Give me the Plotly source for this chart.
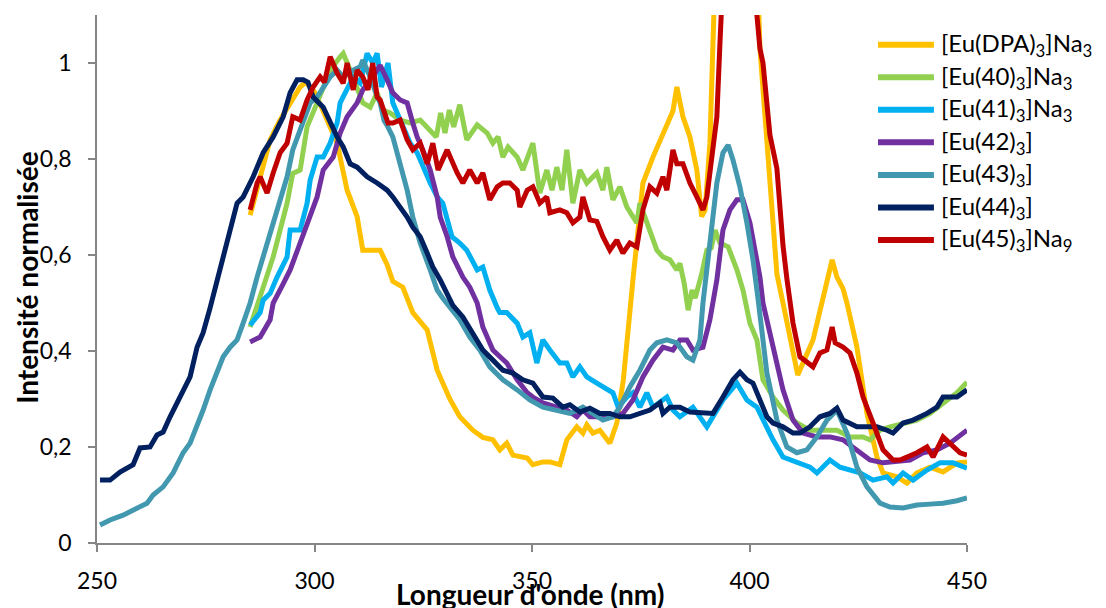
import plotly.graph_objects as go

# ---------------- data ----------------
series_names = ["[Eu(DPA)<sub>3</sub>]Na<sub>3</sub>", "[Eu(40)<sub>3</sub>]Na<sub>3</sub>",
                "[Eu(41)<sub>3</sub>]Na<sub>3</sub>", "[Eu(42)<sub>3</sub>]",
                "[Eu(43)<sub>3</sub>]", "[Eu(44)<sub>3</sub>]", "[Eu(45)<sub>3</sub>]Na<sub>9</sub>"]
series_colors = ["#FFC000", "#92D050", "#00B0F0", "#7030A0", "#4198AF", "#002060", "#C00000"]

wl_dpa = [285.2, 287.5, 289.8, 292.0, 294.4, 296.7, 298.0, 300.0, 302.0, 305.2, 307.5, 309.8, 311.1, 313.4,
          315.1, 316.7, 318.0, 320.3, 322.6, 325.9, 328.2, 331.1, 333.4, 336.4, 338.7, 341.0, 342.6, 344.2,
          345.6, 348.9, 350.2, 352.5, 354.1, 356.4, 358.0, 360.3, 361.7, 362.6, 364.0, 365.6, 367.9, 369.5,
          371.0, 373.2, 375.5, 377.8, 380.1, 382.4, 383.3, 384.7, 386.3, 387.9, 389.0, 389.8, 390.9, 391.8,
          395.5, 401.8, 402.4, 404.0, 405.4, 406.3, 407.7, 408.6, 410.0, 411.1, 412.3, 414.6, 416.9, 418.0,
          419.0, 420.1, 421.5, 422.4, 424.7, 427.0, 429.3, 430.7, 433.9, 436.2, 438.5, 441.5, 444.5, 447.7, 450.0]
int_dpa = [0.683, 0.76, 0.84, 0.88, 0.917, 0.95, 0.96, 0.94, 0.90, 0.833, 0.735, 0.68, 0.61, 0.61,
           0.61, 0.58, 0.545, 0.533, 0.48, 0.444, 0.36, 0.30, 0.263, 0.235, 0.22, 0.215, 0.194, 0.208,
           0.183, 0.177, 0.163, 0.169, 0.169, 0.163, 0.215, 0.242, 0.229, 0.246, 0.229, 0.235, 0.208, 0.25,
           0.34, 0.548, 0.75, 0.804, 0.854, 0.90, 0.95, 0.888, 0.846, 0.777, 0.68, 0.694, 0.833, 1.10,
           1.60, 1.20, 1.03, 0.833, 0.694, 0.56, 0.50, 0.458, 0.396, 0.35, 0.375, 0.423, 0.51, 0.55,
           0.59, 0.554, 0.53, 0.50, 0.408, 0.27, 0.179, 0.146, 0.138, 0.125, 0.146, 0.158, 0.148, 0.167, 0.169]

wl_40 = [285.2, 287.5, 290.5, 293.7, 295.0, 296.7, 298.3, 300.6, 302.0, 303.6, 305.9, 306.6, 308.2, 309.8,
         311.1, 312.8, 314.4, 315.7, 317.4, 319.7, 322.0, 324.3, 326.6, 328.0, 329.0, 330.0, 331.0, 332.0,
         333.4, 335.0, 337.4, 339.7, 341.0, 342.2, 343.3, 344.5, 346.6, 347.9, 350.2, 351.8, 353.4, 354.6,
         355.7, 356.9, 358.0, 359.4, 361.0, 362.6, 364.9, 366.3, 367.2, 368.6, 370.2, 371.8, 373.2, 374.1,
         374.8, 376.4, 378.7, 380.1, 381.7, 383.3, 384.0, 385.0, 385.9, 386.8, 387.5, 389.0, 390.2, 391.2,
         392.1, 393.2, 395.1, 397.1, 397.8, 398.5, 400.1, 401.7, 403.1, 405.4, 407.7, 410.9, 413.9, 416.9,
         420.1, 423.1, 426.1, 427.7, 430.0, 432.3, 435.3, 438.5, 441.5, 444.5, 447.7, 450.0]
int_40 = [0.45, 0.51, 0.596, 0.708, 0.77, 0.777, 0.867, 0.917, 0.95, 0.985, 1.013, 1.02, 0.985, 0.95,
          0.917, 0.908, 0.938, 0.902, 0.896, 0.881, 0.875, 0.881, 0.86, 0.846, 0.896, 0.854, 0.902, 0.867,
          0.913, 0.84, 0.871, 0.854, 0.833, 0.846, 0.804, 0.825, 0.804, 0.777, 0.833, 0.729, 0.777, 0.735,
          0.783, 0.735, 0.819, 0.708, 0.777, 0.75, 0.771, 0.735, 0.783, 0.715, 0.742, 0.70, 0.68, 0.667,
          0.708, 0.667, 0.61, 0.596, 0.59, 0.569, 0.583, 0.54, 0.485, 0.527, 0.51, 0.56, 0.61, 0.615,
          0.652, 0.625, 0.617, 0.569, 0.548, 0.527, 0.458, 0.423, 0.34, 0.304, 0.277, 0.25, 0.235, 0.235,
          0.235, 0.221, 0.221, 0.215, 0.235, 0.242, 0.25, 0.256, 0.27, 0.29, 0.313, 0.335]

wl_41 = [285.2, 287.5, 288.2, 289.8, 291.4, 293.7, 294.4, 296.7, 298.3, 299.0, 300.6, 302.0, 303.6, 305.2,
         305.9, 307.5, 308.9, 310.5, 312.1, 313.4, 314.4, 315.4, 316.9, 318.0, 319.7, 322.0, 323.6, 324.9,
         326.6, 328.2, 329.5, 331.6, 333.4, 335.0, 337.4, 338.7, 340.3, 342.0, 342.6, 344.2, 346.6, 347.9,
         349.5, 351.1, 352.5, 354.1, 356.4, 358.0, 359.4, 361.0, 362.6, 364.9, 367.2, 368.6, 369.8, 371.8,
         373.2, 374.8, 376.4, 377.8, 381.0, 382.4, 384.0, 387.0, 390.2, 391.6, 393.9, 397.1, 399.4, 401.7,
         403.1, 405.4, 407.7, 410.9, 413.9, 415.5, 418.5, 420.8, 423.1, 425.4, 428.4, 431.6, 433.0, 435.3,
         437.6, 440.8, 443.8, 446.8, 450.0]
int_41 = [0.454, 0.48, 0.506, 0.52, 0.554, 0.596, 0.652, 0.652, 0.708, 0.756, 0.804, 0.804, 0.833, 0.875,
          0.917, 0.944, 0.971, 0.958, 1.02, 1.0, 1.02, 0.95, 1.0, 0.917, 0.881, 0.833, 0.813, 0.783,
          0.75, 0.721, 0.708, 0.638, 0.625, 0.61, 0.569, 0.575, 0.527, 0.49, 0.48, 0.48, 0.458, 0.429,
          0.438, 0.375, 0.423, 0.402, 0.375, 0.375, 0.346, 0.367, 0.346, 0.333, 0.319, 0.313, 0.283, 0.304,
          0.313, 0.283, 0.313, 0.283, 0.304, 0.277, 0.263, 0.283, 0.242, 0.263, 0.298, 0.333, 0.298, 0.283,
          0.256, 0.215, 0.179, 0.167, 0.158, 0.146, 0.173, 0.158, 0.152, 0.146, 0.131, 0.138, 0.125, 0.146,
          0.131, 0.152, 0.167, 0.167, 0.156]

wl_42 = [285.2, 287.5, 289.8, 290.5, 292.8, 294.4, 296.7, 299.0, 300.6, 302.0, 304.3, 305.9, 307.5, 309.8,
         311.1, 313.4, 315.1, 316.7, 318.0, 319.7, 321.3, 322.6, 323.6, 324.9, 326.6, 328.2, 328.9, 330.5,
         331.8, 334.1, 335.7, 337.4, 338.7, 341.0, 344.2, 346.6, 348.9, 350.2, 352.5, 355.7, 358.0, 360.3,
         361.7, 363.3, 365.6, 368.6, 370.9, 373.2, 375.5, 377.8, 380.1, 382.4, 384.0, 385.6, 387.0, 389.3,
         390.9, 391.6, 392.5, 393.9, 395.5, 397.1, 398.5, 400.1, 401.7, 402.4, 403.1, 405.4, 407.7, 410.0,
         412.3, 415.5, 418.5, 421.5, 424.7, 427.7, 430.7, 433.9, 436.9, 439.9, 443.1, 446.1, 449.1, 450.0]
int_42 = [0.419, 0.429, 0.465, 0.50, 0.54, 0.569, 0.625, 0.679, 0.721, 0.777, 0.804, 0.854, 0.888, 0.917,
          0.944, 0.971, 0.995, 0.965, 0.938, 0.923, 0.917, 0.875, 0.846, 0.819, 0.777, 0.721, 0.679, 0.638,
          0.596, 0.554, 0.533, 0.50, 0.45, 0.402, 0.375, 0.34, 0.313, 0.304, 0.292, 0.283, 0.277, 0.263,
          0.277, 0.263, 0.263, 0.263, 0.27, 0.298, 0.346, 0.381, 0.408, 0.402, 0.423, 0.423, 0.402, 0.408,
          0.465, 0.50, 0.548, 0.652, 0.694, 0.715, 0.715, 0.667, 0.583, 0.554, 0.50, 0.408, 0.319, 0.256,
          0.229, 0.221, 0.221, 0.215, 0.194, 0.173, 0.167, 0.169, 0.173, 0.188, 0.194, 0.208, 0.229, 0.235]

wl_43 = [250.7, 253.0, 256.0, 259.2, 261.5, 262.9, 265.2, 267.5, 269.8, 271.4, 273.0, 274.4, 276.0, 277.6,
         279.0, 280.6, 282.2, 283.6, 285.2, 286.8, 289.1, 291.4, 293.7, 295.0, 297.4, 299.0, 300.6, 302.0,
         303.6, 305.2, 306.6, 308.9, 310.5, 311.1, 312.8, 314.4, 315.1, 316.0, 316.7, 318.0, 319.7, 321.3,
         322.6, 324.3, 326.6, 328.2, 329.5, 331.1, 333.4, 335.7, 338.0, 340.3, 343.3, 346.6, 349.5, 352.5,
         355.7, 358.7, 361.7, 364.0, 366.3, 368.6, 370.2, 372.5, 374.8, 377.1, 378.7, 381.0, 383.3, 385.6,
         387.0, 388.6, 389.3, 390.9, 392.5, 393.9, 395.1, 396.2, 397.8, 399.4, 400.8, 402.0, 404.0, 406.3,
         408.6, 410.9, 413.2, 415.5, 417.8, 420.1, 422.4, 424.7, 427.0, 430.0, 432.3, 435.3, 438.5, 441.5,
         444.5, 447.7, 450.0]
int_43 = [0.0375, 0.048, 0.058, 0.073, 0.083, 0.10, 0.117, 0.146, 0.188, 0.208, 0.242, 0.277, 0.319, 0.354,
          0.388, 0.408, 0.423, 0.458, 0.50, 0.554, 0.625, 0.694, 0.763, 0.819, 0.881, 0.917, 0.929, 0.95,
          0.971, 0.985, 0.971, 0.985, 0.992, 1.006, 0.971, 0.930, 0.917, 0.88, 0.870, 0.846, 0.79, 0.735,
          0.679, 0.625, 0.569, 0.527, 0.51, 0.49, 0.465, 0.429, 0.402, 0.367, 0.34, 0.319, 0.298, 0.283,
          0.277, 0.27, 0.283, 0.27, 0.256, 0.263, 0.283, 0.325, 0.36, 0.402, 0.417, 0.423, 0.417, 0.388,
          0.381, 0.423, 0.50, 0.625, 0.75, 0.813, 0.829, 0.798, 0.742, 0.667, 0.59, 0.506, 0.354, 0.256,
          0.20, 0.188, 0.194, 0.221, 0.256, 0.277, 0.229, 0.158, 0.117, 0.083, 0.075, 0.073, 0.079, 0.081,
          0.083, 0.088, 0.094]

wl_44 = [250.7, 253.0, 255.3, 258.3, 259.9, 262.2, 263.8, 265.2, 266.8, 268.4, 269.8, 271.4, 273.0, 274.4,
         276.0, 278.3, 279.9, 282.2, 283.6, 285.9, 288.2, 290.5, 292.8, 294.4, 296.0, 297.4, 298.5, 299.7,
         302.0, 303.6, 305.2, 306.6, 308.2, 309.8, 312.1, 314.4, 315.7, 316.7, 318.0, 319.7, 321.3, 322.6,
         324.3, 325.9, 327.2, 328.9, 331.8, 334.1, 336.4, 338.7, 341.0, 343.3, 345.6, 347.9, 350.2, 352.5,
         354.8, 357.1, 358.7, 361.0, 363.3, 365.6, 367.9, 370.2, 372.5, 374.8, 377.1, 379.4, 380.1, 381.7,
         384.0, 386.3, 389.3, 391.6, 393.9, 396.2, 397.8, 399.4, 400.8, 402.4, 404.0, 405.4, 407.7, 410.0,
         411.6, 413.9, 416.2, 418.5, 420.1, 421.5, 423.1, 424.7, 427.0, 429.3, 431.6, 433.0, 435.3, 437.6,
         440.8, 443.1, 444.5, 447.7, 450.0]
int_44 = [0.131, 0.131, 0.148, 0.163, 0.198, 0.20, 0.225, 0.231, 0.263, 0.292, 0.319, 0.346, 0.408, 0.438,
          0.49, 0.569, 0.631, 0.708, 0.721, 0.763, 0.813, 0.846, 0.888, 0.938, 0.965, 0.965, 0.96, 0.929,
          0.908, 0.875, 0.846, 0.825, 0.79, 0.783, 0.763, 0.75, 0.742, 0.735, 0.721, 0.70, 0.679, 0.658,
          0.638, 0.604, 0.575, 0.548, 0.495, 0.471, 0.438, 0.402, 0.381, 0.36, 0.354, 0.34, 0.333, 0.304,
          0.302, 0.283, 0.288, 0.273, 0.281, 0.27, 0.27, 0.263, 0.263, 0.27, 0.277, 0.292, 0.27, 0.283,
          0.283, 0.273, 0.27, 0.27, 0.304, 0.34, 0.356, 0.34, 0.333, 0.298, 0.263, 0.25, 0.242, 0.229,
          0.229, 0.242, 0.263, 0.27, 0.281, 0.256, 0.25, 0.242, 0.242, 0.242, 0.235, 0.229, 0.25, 0.256,
          0.27, 0.283, 0.304, 0.304, 0.319]

wl_45 = [285.2, 286.8, 287.5, 289.1, 290.5, 292.1, 293.7, 295.0, 296.7, 298.3, 299.7, 301.3, 302.3, 303.6,
         305.2, 306.6, 307.5, 308.9, 309.8, 311.1, 312.3, 313.4, 314.4, 315.1, 316.9, 318.0, 319.7, 321.3,
         322.6, 324.3, 325.9, 327.2, 328.4, 330.5, 332.8, 334.1, 335.7, 337.4, 338.7, 340.3, 342.0, 343.3,
         344.9, 346.6, 347.2, 348.9, 350.2, 351.8, 353.4, 354.1, 356.4, 358.0, 359.4, 361.0, 361.7, 363.3,
         364.9, 366.3, 367.9, 369.5, 370.9, 372.5, 374.1, 375.5, 377.1, 378.7, 380.1, 381.0, 382.4, 383.3,
         384.7, 386.3, 387.9, 389.3, 390.2, 391.6, 392.5, 393.2, 394.5, 397.5, 400.5, 401.7, 402.4, 403.1,
         404.7, 406.3, 407.7, 408.6, 410.0, 411.6, 413.2, 414.6, 416.2, 417.8, 419.0, 419.7, 421.5, 423.1,
         424.7, 426.1, 428.4, 430.7, 433.0, 434.6, 436.2, 438.5, 440.8, 442.2, 444.5, 446.8, 448.4, 450.0]
int_45 = [0.694, 0.75, 0.763, 0.729, 0.771, 0.813, 0.833, 0.888, 0.881, 0.923, 0.95, 0.971, 0.96, 1.013,
          0.979, 0.958, 1.0, 0.944, 0.985, 0.971, 0.944, 1.0, 0.929, 0.923, 0.875, 0.875, 0.881, 0.84,
          0.819, 0.833, 0.79, 0.833, 0.777, 0.819, 0.771, 0.75, 0.777, 0.75, 0.771, 0.715, 0.742, 0.75,
          0.75, 0.735, 0.70, 0.735, 0.742, 0.708, 0.721, 0.688, 0.694, 0.688, 0.667, 0.679, 0.721, 0.673,
          0.67, 0.638, 0.61, 0.631, 0.604, 0.625, 0.617, 0.694, 0.742, 0.729, 0.763, 0.735, 0.819, 0.79,
          0.79, 0.75, 0.721, 0.694, 0.721, 0.813, 0.888, 1.04, 1.30, 1.50, 1.30, 1.10, 1.03, 1.00,
          0.85, 0.78, 0.62, 0.55, 0.458, 0.388, 0.375, 0.367, 0.396, 0.402, 0.45, 0.417, 0.408, 0.396,
          0.354, 0.304, 0.25, 0.194, 0.173, 0.173, 0.179, 0.188, 0.20, 0.179, 0.221, 0.20, 0.188, 0.183]

x_ticks = [250, 300, 350, 400, 450]
y_ticks = [0, 0.2, 0.4, 0.6, 0.8, 1]
x_title = "Longueur d'onde (nm)"
y_title = "Intensité normalisée"

all_x = [wl_dpa, wl_40, wl_41, wl_42, wl_43, wl_44, wl_45]
all_y = [int_dpa, int_40, int_41, int_42, int_43, int_44, int_45]

# ---------------- figure ----------------
FONT = "Lato, 'Open Sans', 'Liberation Sans', sans-serif"
AXIS_COLOR = "#868686"

fig = go.Figure()
for name, color, xs, ys in zip(series_names, series_colors, all_x, all_y):
    fig.add_trace(go.Scatter(x=xs, y=ys, mode="lines", name=name,
                             line=dict(color=color, width=5), showlegend=False))

# custom legend (Excel-like long line samples)
leg_x0, leg_x1, leg_text_x = 0.8977, 0.962, 0.968
leg_y_top, leg_step = 0.9436, 0.0616
for i, (name, color) in enumerate(zip(series_names, series_colors)):
    yy = leg_y_top - i * leg_step
    fig.add_shape(type="line", xref="paper", yref="paper", x0=leg_x0, x1=leg_x1, y0=yy, y1=yy,
                  line=dict(color=color, width=6))
    fig.add_annotation(xref="paper", yref="paper", x=leg_text_x, y=yy, text=name, showarrow=False,
                       xanchor="left", yanchor="middle", font=dict(family=FONT, size=24, color="#000000"))

# axis titles
fig.add_annotation(xref="paper", yref="paper", x=0.498, y=-0.097, text="<b>" + x_title + "</b>",
                   showarrow=False, xanchor="center", yanchor="middle",
                   font=dict(family=FONT, size=28, color="#000000"))
fig.add_annotation(xref="paper", yref="paper", x=-0.0805, y=0.504, text="<b>" + y_title + "</b>",
                   showarrow=False, xanchor="center", yanchor="middle", textangle=-90,
                   font=dict(family=FONT, size=28, color="#000000"))

fig.update_layout(
    width=1098, height=600,
    margin=dict(l=89, r=139, t=7, b=65),
    paper_bgcolor="white", plot_bgcolor="white",
    separators=", ",
    font=dict(family=FONT, size=23, color="#000000"),
    showlegend=False,
)
fig.update_xaxes(range=[250, 450], tickvals=x_ticks, ticks="outside", ticklen=7, tickwidth=1.5,
                 tickcolor=AXIS_COLOR, showline=True, linecolor=AXIS_COLOR, linewidth=1.5,
                 showgrid=False, zeroline=False, tickfont=dict(size=23), ticklabelstandoff=10)
fig.update_yaxes(range=[0, 1.1], tickvals=y_ticks, ticks="outside", ticklen=7, tickwidth=1.5,
                 tickcolor=AXIS_COLOR, showline=True, linecolor=AXIS_COLOR, linewidth=1.5,
                 showgrid=False, zeroline=False, tickfont=dict(size=23), ticklabelstandoff=12)

fig.write_html("out.html")
